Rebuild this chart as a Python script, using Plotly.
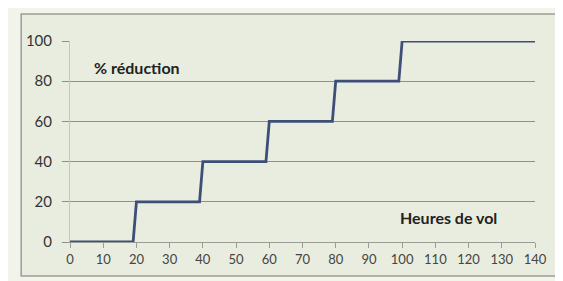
import plotly.graph_objects as go

heures = [0, 19, 20, 39, 40, 59, 60, 79, 80, 99, 100, 140]
reduction = [0, 0, 20, 20, 40, 40, 60, 60, 80, 80, 100, 100]
x_ticks = list(range(0, 141, 10))
y_ticks = [0, 20, 40, 60, 80, 100]
y_label = "% réduction"
x_label = "Heures de vol"

page_bg = "#f2f4ec"
chart_bg = "#e9eddf"
line_col = "#3d4f78"
grid_col = "#8e918a"

fig = go.Figure()
fig.add_trace(go.Scatter(x=heures, y=reduction, mode="lines",
                         line=dict(color=line_col, width=2.8), showlegend=False,
                         hoverinfo="skip"))

fig.update_layout(
    width=563, height=281,
    margin=dict(l=62, r=36, t=33, b=47),
    paper_bgcolor=page_bg, plot_bgcolor=chart_bg,
    font=dict(family="Lato", color="#333333"),
    shapes=[dict(type="rect", xref="paper", yref="paper",
                 x0=-0.105, x1=1.047, y0=-0.169, y1=1.134,
                 line=dict(color="#9a9d94", width=1.5),
                 fillcolor=chart_bg, layer="below")],
    annotations=[
        dict(x=20.3, y=86.6, xref="x", yref="y", text="<b>" + y_label + "</b>",
             showarrow=False, font=dict(size=16, color="#222222", family="Lato")),
        dict(x=114.1, y=12.4, xref="x", yref="y", text="<b>" + x_label + "</b>",
             showarrow=False, font=dict(size=16, color="#222222", family="Lato")),
    ],
)
fig.update_xaxes(range=[0, 140], tickvals=x_ticks, ticks="outside", ticklen=5,
                 tickcolor="#9a9d94", showline=True, linecolor="#9a9d94",
                 showgrid=False, zeroline=False, tickfont=dict(size=13, color="#444444"),
                 fixedrange=True)
fig.update_yaxes(range=[0, 100], tickvals=y_ticks, ticks="outside", ticklen=7,
                 tickcolor=grid_col, showline=True, linecolor="#c3c7bc",
                 showgrid=True, gridcolor=grid_col, gridwidth=1, zeroline=False,
                 tickfont=dict(size=15, color="#333333"), ticklabelstandoff=7,
                 fixedrange=True)

fig.write_html("out.html")
